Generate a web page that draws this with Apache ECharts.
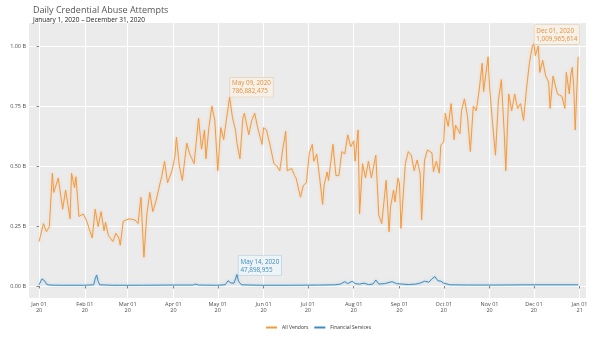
<!DOCTYPE html>
<html><head><meta charset="utf-8">
<script src="https://cdn.jsdelivr.net/npm/echarts@6/dist/echarts.min.js"></script>
<style>html,body{margin:0;padding:0;background:#fff}#c{width:593px;height:338px}</style>
</head><body><div id="c"></div>
<script>
// ---- data (day index from 2020-01-01, values in billions) ----
const allDays = [0,3,5,7,9,10,13,16,18,21,22,24,25,27,30,32,36,38,40,42,44,45,47,50,52,54,55,57,61,65,67,69,71,73,75,77,79,80,82,83,85,87,90,92,93,95,97,100,102,105,108,110,112,113,115,117,119,121,123,125,127,129,131,133,134,136,138,139,142,144,146,148,151,152,154,157,159,161,163,165,167,168,171,173,174,177,179,181,183,185,186,188,190,192,193,195,196,199,201,203,205,207,209,211,213,214,216,217,219,221,223,225,228,230,232,235,237,238,240,241,243,244,245,248,250,252,254,256,258,259,261,263,264,266,267,269,271,272,274,275,277,279,281,282,285,286,288,290,292,294,296,298,300,301,304,305,307,309,311,313,315,316,318,320,322,324,326,328,330,332,334,335,336,338,339,341,343,345,346,348,349,351,352,354,356,357,359,360,361,362,363,365];
const allVals = [0.185,0.26,0.226,0.247,0.47,0.39,0.45,0.32,0.40,0.28,0.47,0.41,0.455,0.29,0.30,0.275,0.20,0.32,0.247,0.31,0.23,0.265,0.21,0.185,0.22,0.20,0.17,0.27,0.28,0.275,0.26,0.37,0.12,0.30,0.39,0.31,0.35,0.35,0.43,0.455,0.52,0.43,0.48,0.54,0.62,0.50,0.44,0.595,0.55,0.51,0.70,0.57,0.65,0.53,0.66,0.75,0.69,0.48,0.66,0.61,0.70,0.786882475,0.70,0.65,0.595,0.53,0.70,0.72,0.63,0.69,0.72,0.66,0.59,0.66,0.65,0.57,0.51,0.50,0.48,0.57,0.645,0.48,0.49,0.46,0.45,0.37,0.42,0.43,0.555,0.59,0.52,0.55,0.45,0.34,0.42,0.475,0.44,0.59,0.46,0.46,0.56,0.55,0.63,0.58,0.605,0.52,0.65,0.30,0.51,0.45,0.52,0.45,0.545,0.295,0.26,0.44,0.226,0.33,0.40,0.35,0.45,0.43,0.24,0.51,0.56,0.545,0.48,0.525,0.47,0.275,0.525,0.567,0.565,0.555,0.476,0.52,0.47,0.587,0.60,0.72,0.665,0.76,0.61,0.67,0.635,0.73,0.78,0.71,0.56,0.75,0.73,0.817,0.928,0.81,0.955,0.83,0.68,0.545,0.775,0.86,0.63,0.48,0.80,0.73,0.80,0.74,0.76,0.69,0.82,0.93,1.00,1.009965614,0.96,1.00,0.89,0.94,0.875,0.85,0.74,0.875,0.85,0.80,0.80,0.79,0.74,0.89,0.80,0.88,0.91,0.83,0.65,0.955];
const finDays = [0,1,2,3,4,5,7,15,30,37,38,39,40,41,50,70,90,104,106,108,120,126,128,130,131,132,134,135,137,150,170,190,200,204,207,209,212,214,217,220,223,226,228,230,234,239,242,246,250,255,258,261,264,266,268,270,272,274,278,290,310,330,350,365];
const finVals = [0.005,0.012,0.03,0.033,0.02,0.008,0.004,0.003,0.003,0.005,0.03,0.046,0.02,0.005,0.003,0.003,0.004,0.004,0.008,0.004,0.003,0.005,0.022,0.012,0.02,0.012,0.047898955,0.02,0.005,0.003,0.003,0.004,0.005,0.008,0.018,0.01,0.02,0.01,0.008,0.012,0.006,0.008,0.025,0.008,0.01,0.018,0.01,0.008,0.006,0.008,0.012,0.02,0.016,0.03,0.039,0.022,0.02,0.012,0.005,0.004,0.004,0.005,0.005,0.005];
const yTicks = [0, 0.25, 0.5, 0.75, 1.0];
const monthNames = ['Jan','Feb','Mar','Apr','May','Jun','Jul','Aug','Sep','Oct','Nov','Dec'];
const annotations = [
  {series: 0, day: 129, value: 0.786882475, text: 'May 09, 2020\n786,882,475', pos: [1, -19]},
  {series: 1, day: 134, value: 0.047898955, text: 'May 14, 2020\n47,898,955', pos: [2, -18]},
  {series: 0, day: 335, value: 1.009965614, text: 'Dec 01, 2020\n1,009,965,614', pos: [1, -18]}
];
// ---------------------------------------------------------------
const DAY = 86400000;
const t0 = Date.UTC(2020, 0, 1);
const monthTicks = [];
for (let m = 0; m <= 12; m++) monthTicks.push(Math.round((Date.UTC(2020, m, 1) - t0) / DAY));

const ORANGE = '#F39A3F', BLUE = '#3A8DC2';
function mp(seriesIdx, color, bg, border) {
  return {
    symbol: 'rect', symbolSize: 1, itemStyle: {color: 'rgba(0,0,0,0)'},
    data: annotations.filter(a => a.series === seriesIdx).map(a => ({
      coord: [a.day, a.value],
      label: {
        show: true, formatter: a.text, position: a.pos,
        color: color, fontSize: 6.3, lineHeight: 8, fontFamily: 'Open Sans',
        backgroundColor: bg, borderColor: border, borderWidth: 0.6, padding: [2, 2, 1, 2], align: 'left'
      }
    }))
  };
}

const chart = echarts.init(document.getElementById('c'), null, {renderer: 'canvas'});
chart.setOption({
  animation: false,
  backgroundColor: '#fff',
  textStyle: {fontFamily: 'Open Sans'},
  title: [
    {text: 'Daily Credential Abuse Attempts', left: 28, top: 1, textStyle: {fontSize: 9, fontWeight: 'normal', color: '#555', fontFamily: 'Open Sans'}},
    {text: 'January 1, 2020 \u2013 December 31, 2020', left: 28, top: 12, textStyle: {fontSize: 6.5, fontWeight: 'normal', color: '#222', fontFamily: 'Open Sans'}}
  ],
  grid: {left: 29, right: 7, top: 23, bottom: 40, show: true, backgroundColor: '#EBEBEB', borderWidth: 0, outerBoundsMode: 'none', containLabel: false},
  legend: {
    left: 261, top: 320, itemWidth: 11, itemHeight: 2, itemGap: 6, icon: 'rect',
    textStyle: {fontSize: 5, color: '#333', fontFamily: 'Open Sans'},
    data: ['All Vendors', 'Financial Services']
  },
  xAxis: {
    type: 'value',
    min: -6.8, max: 370.3,
    axisLine: {show: false},
    axisTick: {show: true, length: 2.5, lineStyle: {color: '#333', width: 0.6}, customValues: monthTicks},
    axisLabel: {
      customValues: monthTicks, fontSize: 5.5, color: '#4D4D4D', lineHeight: 6.5, margin: 3,
      formatter: v => { const d = new Date(t0 + v * DAY); return monthNames[d.getUTCMonth()] + ' 01\n' + String(d.getUTCFullYear()).slice(2); }
    },
    splitLine: {show: true, lineStyle: {color: '#fff', width: 1}}
  },
  yAxis: {
    type: 'value', min: -0.05, max: 1.0958,
    name: 'Malicious Login Attempts (Billions)', nameLocation: 'middle', nameGap: 19,
    nameTextStyle: {fontSize: 7.6, color: '#333', fontFamily: 'Open Sans'},
    axisLine: {show: false},
    axisTick: {show: true, length: 2.5, lineStyle: {color: '#333', width: 0.6}, customValues: yTicks},
    axisLabel: {customValues: yTicks, fontSize: 5.5, color: '#4D4D4D', margin: 3, formatter: v => v.toFixed(2) + ' B'},
    splitLine: {show: true, lineStyle: {color: '#fff', width: 1}}
  },
  series: [
    {
      name: 'All Vendors', type: 'line', showSymbol: false, symbol: 'none',
      data: allDays.map((d, i) => [d, allVals[i]]),
      lineStyle: {color: ORANGE, width: 1, shadowColor: 'rgba(243,154,63,0.35)', shadowBlur: 3},
      itemStyle: {color: ORANGE},
      markPoint: mp(0, '#E8913A', 'rgba(245,240,232,0.95)', '#E5CFAF')
    },
    {
      name: 'Financial Services', type: 'line', showSymbol: false, symbol: 'none',
      data: finDays.map((d, i) => [d, finVals[i]]),
      lineStyle: {color: BLUE, width: 1, shadowColor: 'rgba(58,141,194,0.35)', shadowBlur: 3},
      itemStyle: {color: BLUE},
      markPoint: mp(1, '#3A8DC2', 'rgba(238,244,247,0.95)', '#A9D0E4')
    }
  ]
});
</script></body></html>
